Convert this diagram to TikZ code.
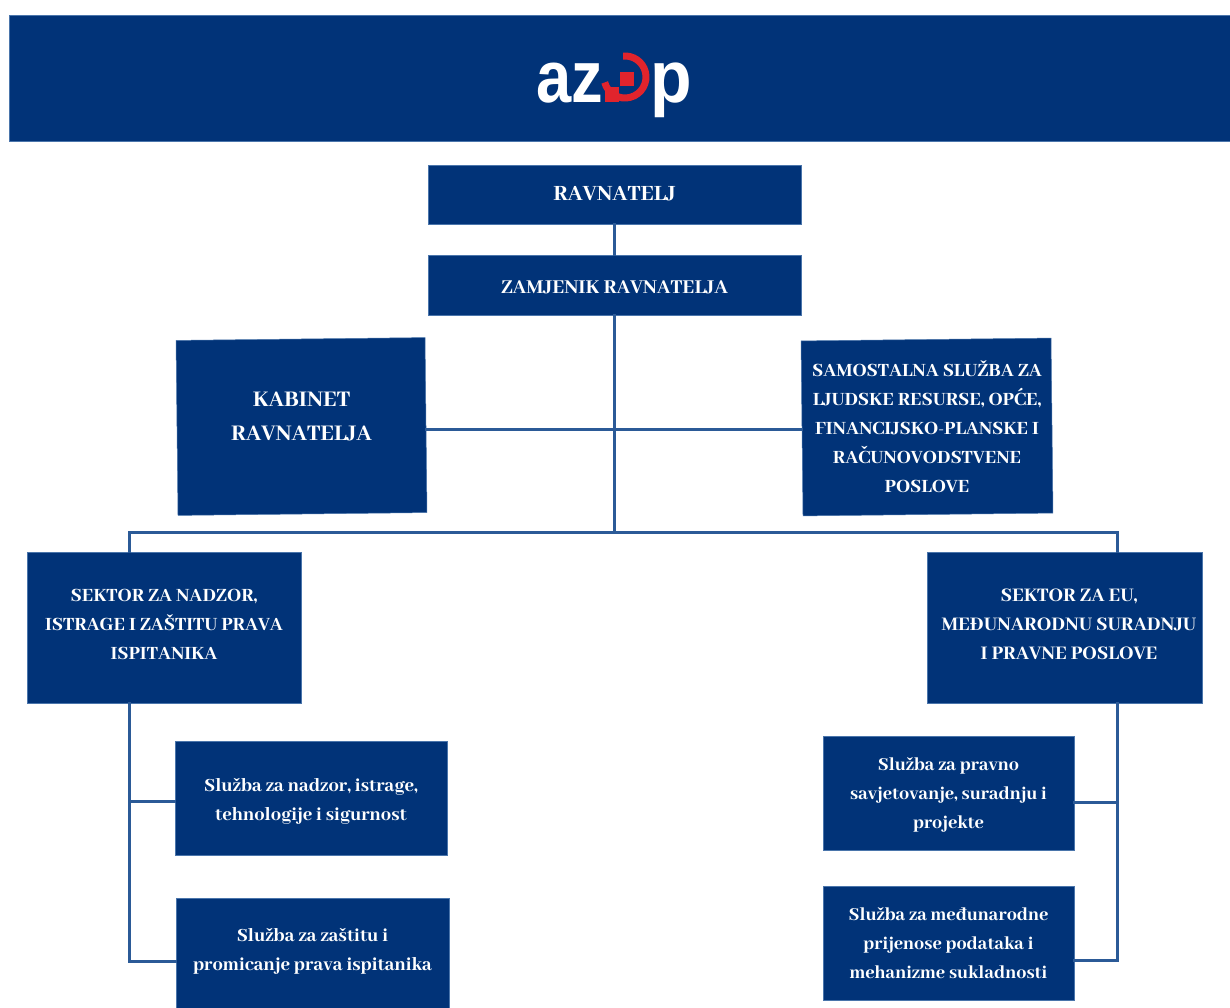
\documentclass[tikz,border=0pt]{standalone}
\usepackage{fontspec}
\setmainfont{Abhaya Libre}[BoldFont={Abhaya Libre ExtraBold}]
\newfontfamily\logofont{Liberation Sans}
\definecolor{navy}{HTML}{013378}
\definecolor{wire}{HTML}{2B5A97}
\definecolor{edge}{HTML}{4A75AB}
\definecolor{logored}{HTML}{E1242C}
\newcommand{\lift}[2]{\raisebox{\dimexpr#1-0.25em\relax}[0pt][0pt]{\begin{tabular}[c]{@{}c@{}}#2\end{tabular}}}
\newcommand{\fs}[1]{\fontsize{#1}{29}\selectfont\bfseries}
\tikzset{
  box/.style={fill=navy,draw=edge,line width=0.5pt,text=white,inner sep=0pt,font=\fs{20.6}},
  wirel/.style={draw=wire,line width=3pt,line cap=rect},
  logotxt/.style={text=white,inner sep=0pt,font=\logofont\bfseries\fontsize{68}{68}\selectfont}
}
\begin{document}
\begin{tikzpicture}[x=1pt,y=-1pt]
\useasboundingbox (0,0) rectangle (1230,1008);
\fill[white] (0,0) rectangle (1230,1008);
\coordinate (busc) at (614,532);
\coordinate (busl) at (129,532);
\coordinate (busr) at (1117,532);
\coordinate (hub) at (614,429);
\coordinate (tl1) at (129,801);
\coordinate (tl2) at (129,961);
\coordinate (tr1) at (1117,802);
\coordinate (tr2) at (1117,960);
% header
\node[fill=navy,draw=edge,line width=0.5pt,minimum width=1222pt,minimum height=126pt,inner sep=0pt] (hdr) at (620,78) {};
% boxes
\node[box,font=\fs{24},minimum width=373pt,minimum height=59pt] (rav) at (614.5,194.5) {\lift{0pt}{RAVNATELJ}};
\node[box,font=\fs{21.7},minimum width=373pt,minimum height=60pt] (zam) at (614.5,285) {\lift{-2pt}{ZAMJENIK RAVNATELJA}};
\node[box,font=\fontsize{24.6}{34}\selectfont\bfseries,minimum width=249pt,minimum height=175pt,rotate=0.65] (kab) at (301.5,426.5) {\rotatebox[origin=c]{-0.65}{\lift{10pt}{KABINET\\RAVNATELJA}}};
\node[box,minimum width=250pt,minimum height=175pt,rotate=0.65] (sam) at (927,427) {\rotatebox[origin=c]{-0.65}{\lift{-2pt}{SAMOSTALNA SLUŽBA ZA\\LJUDSKE RESURSE, OPĆE,\\FINANCIJSKO-PLANSKE I\\RAČUNOVODSTVENE\\POSLOVE}}};
\node[box,minimum width=274pt,minimum height=151pt] (sl) at (164,627.5) {\lift{3pt}{SEKTOR ZA NADZOR,\\ISTRAGE I ZAŠTITU PRAVA\\ISPITANIKA}};
\node[box,font=\fs{21.1},minimum width=275pt,minimum height=151pt] (sr) at (1064.5,627.5) {\hspace*{9pt}\lift{3pt}{SEKTOR ZA EU,\\MEĐUNARODNU SURADNJU\\I PRAVNE POSLOVE}};
\node[box,font=\fs{20.4},minimum width=272pt,minimum height=114pt] (s1) at (311,798) {\lift{-2pt}{Služba za nadzor, istrage,\\tehnologije i sigurnost}};
\node[box,font=\fs{20.4},minimum width=273pt,minimum height=112pt] (s2) at (312.5,954) {\lift{4pt}{Služba za zaštitu i\\promicanje prava ispitanika}};
\node[box,font=\fs{20},minimum width=251pt,minimum height=114pt] (r1) at (948.5,793) {\lift{-1pt}{Služba za pravno\\savjetovanje, suradnju i\\projekte}};
\node[box,font=\fs{20},minimum width=251pt,minimum height=114pt] (r2) at (948.5,943) {\lift{-1pt}{Služba za međunarodne\\prijenose podataka i\\mehanizme sukladnosti}};
% wires
\draw[wirel] (rav.south -| hub) -- (zam.north -| hub);
\draw[wirel] (zam.south -| hub) -- (busc);
\draw[wirel] (kab.east |- hub) -- (sam.west |- hub);
\draw[wirel] (busl) -- (busr);
\draw[wirel] (busl) -- (sl.north -| busl);
\draw[wirel] (busr) -- (sr.north -| busr);
\draw[wirel] (sl.south -| tl2) -- (tl2) -- (s2.west |- tl2);
\draw[wirel] (tl1) -- (s1.west |- tl1);
\draw[wirel] (sr.south -| tr2) -- (tr2) -- (r2.east |- tr2);
\draw[wirel] (tr1) -- (r1.east |- tr1);
% logo
\node[logotxt,anchor=base west,xscale=0.93,yscale=1.08] (laz) at (536,103) {az};
\node[logotxt,anchor=base west,xscale=1.0,yscale=1.08] (lp) at (650,103) {p};
\draw[logored,line width=7pt,line cap=butt] (625,77) ++(165:21) arc[start angle=165,end angle=-95,radius=21];
\fill[logored] (620,72.5) rectangle (633.5,86);
\fill[logored] (605,87) rectangle (619,102.5);
\end{tikzpicture}
\end{document}
